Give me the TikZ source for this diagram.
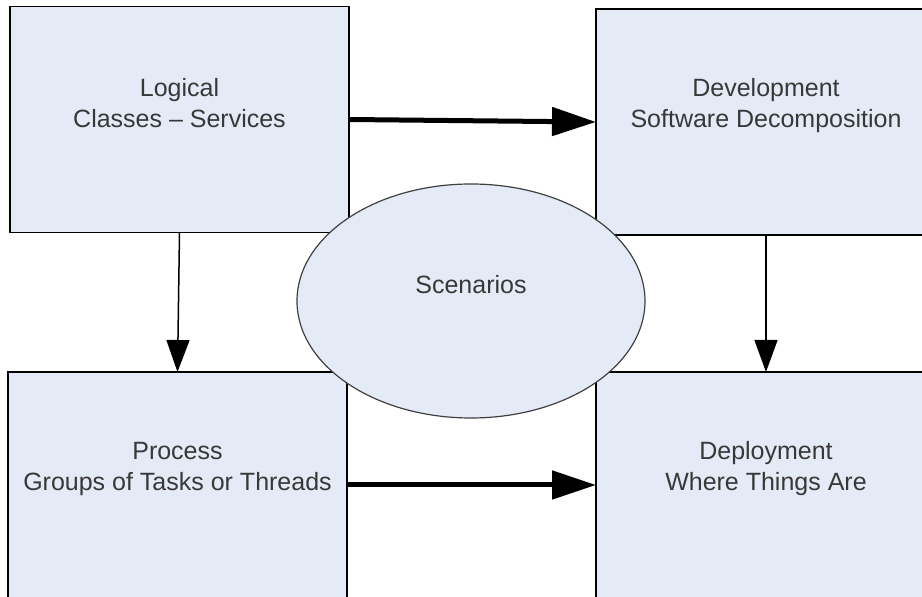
\documentclass[tikz,border=0pt]{standalone}
\usepackage{fontspec}
\setmainfont{Liberation Sans}
\usetikzlibrary{arrows.meta,shapes.geometric}
\tikzset{
  viewbox/.style={draw=black,line width=1.5pt,fill=fillColor,rectangle,
    minimum width=339pt,minimum height=226pt,inner sep=0pt,outer sep=0pt},
  scenbox/.style={draw=drawColor,line width=1.2pt,fill=fillColor,ellipse,
    minimum width=348pt,minimum height=234pt,inner sep=0pt,outer sep=0pt},
  viewtext/.style={text=textColor,align=center,inner sep=0pt,
    font=\fontsize{25}{31}\selectfont,yshift=16pt},
  flowbig/.style={line width=5pt,-{Triangle[length=44pt,width=28pt]}},
  flowthin/.style={line width=1.5pt,-{Triangle[length=32pt,width=23pt]}}
}
\begin{document}
\begin{tikzpicture}[x=1pt,y=1pt]
\definecolor{fillColor}{RGB}{228,235,246}
\definecolor{drawColor}{gray}{0.25}
\definecolor{textColor}{gray}{0.22}
\path[use as bounding box,fill=white] (0,0) rectangle (922,597);
\clip (0,0) rectangle (922,597);

% the four views
\node[viewbox,label={[viewtext]center:Logical\\Classes -- Services}] (logical) at (179.5,477.5) {};
\node[viewbox,minimum width=340pt,label={[viewtext]center:Development\\Software Decomposition}] (develop) at (766,475) {};
\node[viewbox,label={[viewtext]center:Process\\Groups of Tasks or Threads}] (process) at (177.5,112) {};
\node[viewbox,minimum width=340pt,label={[viewtext]center:Deployment\\Where Things Are}] (deploy) at (766,112) {};

% scenarios in the middle
\node[scenbox,label={[viewtext]center:Scenarios}] (scen) at (471,296) {};

\draw[flowbig] (logical.east) -- (develop.west);
\draw[flowbig] (process.east) -- (deploy.west);
\draw[flowthin] (logical.south) -- (process.north);
\draw[flowthin] (develop.south) -- (deploy.north);
\end{tikzpicture}
\end{document}
